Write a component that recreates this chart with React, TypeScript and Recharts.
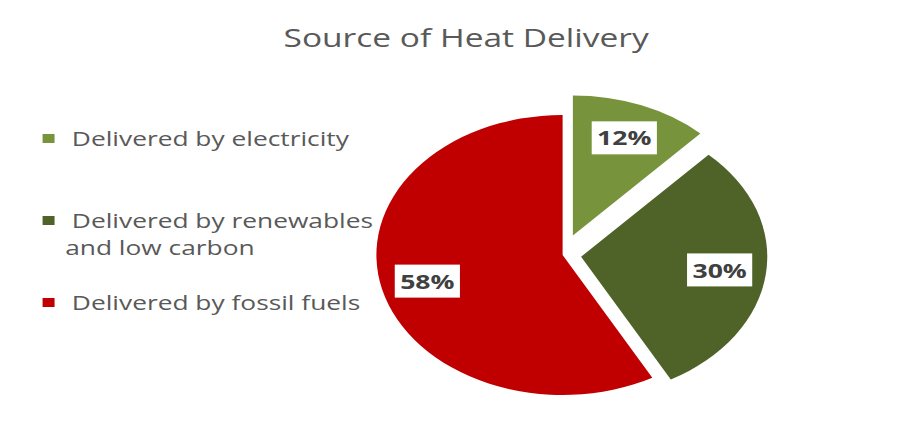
import { PieChart, Pie, Cell, Legend } from "recharts";

const CATEGORIES = [
  "Delivered by electricity",
  "Delivered by renewables and low carbon",
  "Delivered by fossil fuels",
];
const SHARES = [12, 30, 58];
const COLORS = ["#77933C", "#4F6228", "#C00000"];
const EXPLODE = [21, 14, 0];

// the reference is stretched sideways, so the whole chart is drawn narrow and scaled
const SX = 1.33;
const RAD = Math.PI / 180;
const LEGEND_ROWS = [130, 212, 294];

const data = CATEGORIES.map((name, i) => ({ name, value: SHARES[i] }));

const total = SHARES.reduce((a, b) => a + b, 0);
const offsets = (() => {
  let cum = 0;
  return SHARES.map((v, i) => {
    const mid = 90 - ((cum + v / 2) / total) * 360;
    cum += v;
    return {
      dx: EXPLODE[i] * Math.cos(mid * RAD),
      dy: -EXPLODE[i] * Math.sin(mid * RAD),
    };
  });
})();

const renderLabel = (props: any) => {
  const { cx, cy, midAngle, outerRadius, percent, index } = props;
  const r = outerRadius * 0.75;
  const x = cx + r * Math.cos(-midAngle * RAD) + offsets[index].dx;
  const y = cy + r * Math.sin(-midAngle * RAD) + offsets[index].dy;
  return (
    <g>
      <rect x={x - 24.5} y={y - 16.5} width={49} height={33} fill="#fff" />
      <text
        x={x}
        y={y}
        textAnchor="middle"
        dominantBaseline="central"
        fill="#404040"
        fontSize={20}
        fontWeight={700}
        fontFamily="Open Sans"
      >
        {`${Math.round(percent * 100)}%`}
      </text>
    </g>
  );
};

const renderLegend = (props: any) => {
  // keep the legend in data order
  const items = [...(props.payload || [])].sort(
    (a: any, b: any) => CATEGORIES.indexOf(a.value) - CATEGORIES.indexOf(b.value)
  );
  return (
    <div>
      {items.map((item: any, i: number) => (
        <div key={item.value}>
          <div
            style={{
              position: "absolute",
              left: 26,
              top: LEGEND_ROWS[i] - 4,
              width: 9,
              height: 9,
              background: item.color,
            }}
          />
          <div
            style={{
              position: "absolute",
              left: 43,
              top: LEGEND_ROWS[i] - 13.5,
              width: 250,
              textIndent: 5,
              fontSize: 19.8,
              lineHeight: "27px",
              color: "#595959",
              whiteSpace: "normal",
            }}
          >
            {item.value}
          </div>
        </div>
      ))}
    </div>
  );
};

export default function App() {
  return (
    <div
      style={{
        position: "relative",
        width: 913,
        height: 424,
        margin: "-1px 0 0 -1px",
        borderTop: "1px solid #d9d9d9",
        borderLeft: "1px solid #d9d9d9",
        overflow: "hidden",
        fontFamily: "Open Sans",
        background: "#fff",
      }}
    >
      <div
        style={{
          position: "absolute",
          left: 0,
          top: 0,
          width: 700,
          height: 424,
          transform: `scaleX(${SX})`,
          transformOrigin: "0 0",
        }}
      >
        <div
          style={{
            position: "absolute",
            left: 0,
            top: 17,
            width: 689,
            textAlign: "center",
            fontSize: 25.2,
            lineHeight: 1,
            color: "#595959",
          }}
        >
          Source of Heat Delivery
        </div>
        <PieChart width={700} height={424} margin={{ top: 0, right: 0, bottom: 0, left: 0 }}>
          <Pie
            data={data}
            dataKey="value"
            nameKey="name"
            cx={417}
            cy={247}
            outerRadius={140}
            startAngle={90}
            endAngle={-270}
            stroke="none"
            labelLine={false}
            label={renderLabel}
            isAnimationActive={false}
          >
            {data.map((d, i) => (
              <Cell
                key={d.name}
                fill={COLORS[i]}
                transform={`translate(${offsets[i].dx},${offsets[i].dy})`}
              />
            ))}
          </Pie>
          <Legend content={renderLegend} wrapperStyle={{ left: 0, top: 0 }} />
        </PieChart>
      </div>
    </div>
  );
}
